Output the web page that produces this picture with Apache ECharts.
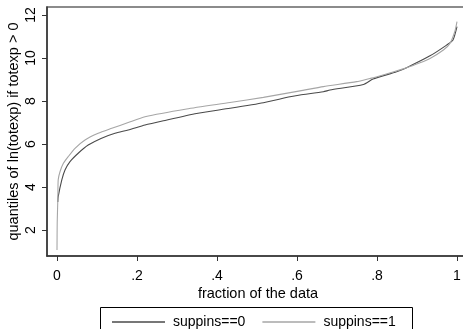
<!DOCTYPE html>
<html><head><meta charset="utf-8">
<script src="https://cdn.jsdelivr.net/npm/echarts@6/dist/echarts.min.js"></script>
<style>html,body{margin:0;padding:0;background:#fff}#c{width:463px;height:329px}</style>
</head><body><div id="c"></div>
<script>
var xTicks = [0, 0.2, 0.4, 0.6, 0.8, 1];
var xTickLabels = ['0', '.2', '.4', '.6', '.8', '1'];
var yTicks = [2, 4, 6, 8, 10, 12];
var seriesNames = ['suppins==0', 'suppins==1'];
var frac0 = [0.002, 0.003, 0.012, 0.02, 0.0325, 0.053, 0.078, 0.11, 0.145, 0.178, 0.22, 0.266, 0.349, 0.4325, 0.516, 0.5825, 0.6075, 0.666, 0.6825, 0.766, 0.79, 0.849, 0.874, 0.9325, 0.974, 0.99, 1.0];
var q0 = [3.3, 3.55, 4.33, 4.79, 5.18, 5.57, 5.95, 6.26, 6.5, 6.65, 6.88, 7.08, 7.42, 7.66, 7.92, 8.2, 8.28, 8.43, 8.51, 8.77, 9.02, 9.36, 9.55, 10.1, 10.6, 10.84, 11.46];
var frac1 = [0, 0.0005, 0.002, 0.003, 0.0075, 0.016, 0.028, 0.045, 0.07, 0.103, 0.137, 0.178, 0.22, 0.324, 0.4325, 0.516, 0.6075, 0.666, 0.749, 0.7825, 0.8, 0.874, 0.9075, 0.9325, 0.966, 0.9825, 0.995, 1.0];
var q1 = [1.07, 2.33, 3.4, 4.33, 4.71, 5.1, 5.41, 5.8, 6.19, 6.5, 6.73, 7.0, 7.27, 7.63, 7.93, 8.17, 8.47, 8.67, 8.9, 9.05, 9.13, 9.55, 9.78, 9.98, 10.37, 10.68, 11.26, 11.69];

function pairs(xs, ys) { return xs.map(function (x, i) { return [x, ys[i]]; }); }
var FONT = 'Liberation Sans';
var chart = echarts.init(document.getElementById('c'));
chart.setOption({
  animation: false,
  backgroundColor: '#fff',
  textStyle: { fontFamily: FONT },
  grid: { left: 47, top: 7, right: -6, bottom: 73, containLabel: false, outerBoundsMode: 'none',
    show: true, borderColor: '#666', borderWidth: 1.5, backgroundColor: '#fff' },
  xAxis: {
    type: 'value', min: -0.025, max: 1.03,
    name: 'fraction of the data', nameLocation: 'middle', nameGap: 30, nameMoveOverlap: false,
    nameTextStyle: { fontSize: 14.5, color: '#000', fontFamily: FONT },
    axisLine: { show: true, onZero: false, lineStyle: { color: '#333', width: 1.5 } },
    axisTick: { show: true, length: 5, lineStyle: { color: '#333' }, customValues: xTicks },
    axisLabel: { fontSize: 14, color: '#000', margin: 13, fontFamily: FONT, customValues: xTicks,
      formatter: function (v) { var i = xTicks.indexOf(v); return i >= 0 ? xTickLabels[i] : ''; } },
    splitLine: { show: false }
  },
  yAxis: {
    type: 'value', min: 0.791, max: 12.372,
    name: 'quantiles of ln(totexp) if totexp > 0', nameLocation: 'middle', nameGap: 26, nameMoveOverlap: false,
    nameTextStyle: { fontSize: 14.5, color: '#000', fontFamily: FONT },
    axisLine: { show: true, onZero: false, lineStyle: { color: '#333', width: 1.5 } },
    axisTick: { show: true, length: 5, lineStyle: { color: '#333' }, customValues: yTicks },
    axisLabel: { fontSize: 14, color: '#000', rotate: 90, margin: 9, fontFamily: FONT, customValues: yTicks },
    splitLine: { show: false }
  },
  legend: {
    left: 107, top: 310, itemWidth: 53, itemHeight: 1.5, itemGap: 17, icon: 'rect',
    textStyle: { fontSize: 14, color: '#000', fontFamily: FONT, padding: [0, 0, 0, 3] },
    data: seriesNames
  },
  graphic: [{ type: 'rect', shape: { x: 100.5, y: 307.5, width: 312, height: 40 }, style: { fill: 'none', stroke: '#000', lineWidth: 1 }, z: 10 }],
  series: [
    { name: seriesNames[0], type: 'line', data: pairs(frac0, q0), showSymbol: false, smooth: 0.2,
      lineStyle: { color: '#4a4a4a', width: 1.1 }, itemStyle: { color: '#4a4a4a' } },
    { name: seriesNames[1], type: 'line', data: pairs(frac1, q1), showSymbol: false, smooth: 0.2,
      lineStyle: { color: '#a6a6a6', width: 1.1 }, itemStyle: { color: '#a6a6a6' } }
  ]
});
</script></body></html>
